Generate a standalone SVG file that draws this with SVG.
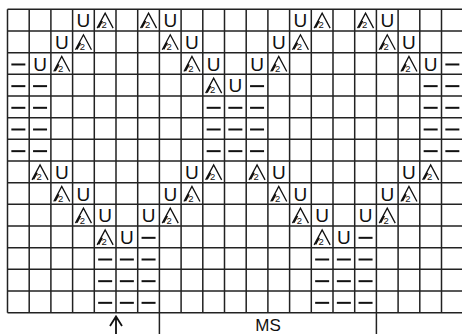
<svg xmlns="http://www.w3.org/2000/svg" xmlns:xlink="http://www.w3.org/1999/xlink" width="462" height="334" viewBox="0 0 462 334">
<style>
.grid{fill:none;stroke:#222;stroke-width:1.5}
.u{font-family:"Liberation Sans",Arial,sans-serif;font-size:19px;text-anchor:middle;fill:#111}
.t2{font-family:"Liberation Sans",Arial,sans-serif;font-size:9.5px;text-anchor:middle;fill:#111}
.sym{fill:none;stroke:#111;stroke-width:1.3;stroke-linejoin:miter}
.dsh{stroke:#111;stroke-width:2}
.arr{fill:none;stroke:#111;stroke-width:1.8}
.lbl{font-family:"Liberation Sans",Arial,sans-serif;font-size:17px;text-anchor:middle;fill:#111}
</style>
<defs>
<path id="lam" class="sym" d="M-8,8 L0,-7 L8,8 M-6.5,7.6 L-2.8,0.9"/>
<line id="dash" class="dsh" x1="-7" y1="1" x2="7" y2="1"/>
</defs>
<rect width="462" height="334" fill="#fff"/>
<g id="grid">
<path class="grid" d="M7.5,9.3V312.7M29.2,9.3V312.7M50.9,9.3V312.7M72.6,9.3V312.7M94.3,9.3V312.7M116,9.3V312.7M137.7,9.3V312.7M159.4,9.3V312.7M181.1,9.3V312.7M202.8,9.3V312.7M224.5,9.3V312.7M246.2,9.3V312.7M267.9,9.3V312.7M289.6,9.3V312.7M311.3,9.3V312.7M333,9.3V312.7M354.7,9.3V312.7M376.4,9.3V312.7M398.1,9.3V312.7M419.8,9.3V312.7M441.5,9.3V312.7
M7.5,9.3H462M7.5,30.97H462M7.5,52.64H462M7.5,74.31H462M7.5,95.98H462M7.5,117.65H462M7.5,139.32H462M7.5,160.99H462M7.5,182.66H462M7.5,204.33H462M7.5,226H462M7.5,247.67H462M7.5,269.34H462M7.5,291.01H462M7.5,312.68H462"/>
</g>
<g id="yarnovers">
<text class="u" x="83.45" y="27.1">U</text><text class="u" x="170.25" y="27.1">U</text><text class="u" x="300.45" y="27.1">U</text><text class="u" x="387.25" y="27.1">U</text>
<text class="u" x="61.75" y="48.8">U</text><text class="u" x="191.95" y="48.8">U</text><text class="u" x="278.75" y="48.8">U</text><text class="u" x="408.95" y="48.8">U</text>
<text class="u" x="40.05" y="70.5">U</text><text class="u" x="213.65" y="70.5">U</text><text class="u" x="257.05" y="70.5">U</text><text class="u" x="430.65" y="70.5">U</text>
<text class="u" x="235.35" y="92.1">U</text>
<text class="u" x="61.75" y="178.8">U</text><text class="u" x="191.95" y="178.8">U</text><text class="u" x="278.75" y="178.8">U</text><text class="u" x="408.95" y="178.8">U</text>
<text class="u" x="83.45" y="200.5">U</text><text class="u" x="170.25" y="200.5">U</text><text class="u" x="300.45" y="200.5">U</text><text class="u" x="387.25" y="200.5">U</text>
<text class="u" x="105.15" y="222.2">U</text><text class="u" x="148.55" y="222.2">U</text><text class="u" x="322.15" y="222.2">U</text><text class="u" x="365.55" y="222.2">U</text>
<text class="u" x="126.85" y="243.8">U</text><text class="u" x="343.85" y="243.8">U</text>
</g>
<g id="decreases">
<use href="#lam" x="105.15" y="20.13"/><use href="#lam" x="148.55" y="20.13"/><use href="#lam" x="322.15" y="20.13"/><use href="#lam" x="365.55" y="20.13"/>
<use href="#lam" x="83.45" y="41.8"/><use href="#lam" x="170.25" y="41.8"/><use href="#lam" x="300.45" y="41.8"/><use href="#lam" x="387.25" y="41.8"/>
<use href="#lam" x="61.75" y="63.47"/><use href="#lam" x="191.95" y="63.47"/><use href="#lam" x="278.75" y="63.47"/><use href="#lam" x="408.95" y="63.47"/>
<use href="#lam" x="213.65" y="85.14"/>
<use href="#lam" x="40.05" y="171.82"/><use href="#lam" x="213.65" y="171.82"/><use href="#lam" x="257.05" y="171.82"/><use href="#lam" x="430.65" y="171.82"/>
<use href="#lam" x="61.75" y="193.49"/><use href="#lam" x="191.95" y="193.49"/><use href="#lam" x="278.75" y="193.49"/><use href="#lam" x="408.95" y="193.49"/>
<use href="#lam" x="83.45" y="215.16"/><use href="#lam" x="170.25" y="215.16"/><use href="#lam" x="300.45" y="215.16"/><use href="#lam" x="387.25" y="215.16"/>
<use href="#lam" x="105.15" y="236.83"/><use href="#lam" x="322.15" y="236.83"/>
<text class="t2" x="104.15" y="28.4">2</text><text class="t2" x="147.55" y="28.4">2</text><text class="t2" x="321.15" y="28.4">2</text><text class="t2" x="364.55" y="28.4">2</text>
<text class="t2" x="82.45" y="50.1">2</text><text class="t2" x="169.25" y="50.1">2</text><text class="t2" x="299.45" y="50.1">2</text><text class="t2" x="386.25" y="50.1">2</text>
<text class="t2" x="60.75" y="71.8">2</text><text class="t2" x="190.95" y="71.8">2</text><text class="t2" x="277.75" y="71.8">2</text><text class="t2" x="407.95" y="71.8">2</text>
<text class="t2" x="212.65" y="93.4">2</text>
<text class="t2" x="39.05" y="180.1">2</text><text class="t2" x="212.65" y="180.1">2</text><text class="t2" x="256.05" y="180.1">2</text><text class="t2" x="429.65" y="180.1">2</text>
<text class="t2" x="60.75" y="201.8">2</text><text class="t2" x="190.95" y="201.8">2</text><text class="t2" x="277.75" y="201.8">2</text><text class="t2" x="407.95" y="201.8">2</text>
<text class="t2" x="82.45" y="223.5">2</text><text class="t2" x="169.25" y="223.5">2</text><text class="t2" x="299.45" y="223.5">2</text><text class="t2" x="386.25" y="223.5">2</text>
<text class="t2" x="104.15" y="245.1">2</text><text class="t2" x="321.15" y="245.1">2</text>
</g>
<g id="purls">
<use href="#dash" x="18.35" y="63.47"/><use href="#dash" x="452.35" y="63.47"/>
<use href="#dash" x="18.35" y="85.14"/><use href="#dash" x="40.05" y="85.14"/><use href="#dash" x="257.05" y="85.14"/><use href="#dash" x="430.65" y="85.14"/><use href="#dash" x="452.35" y="85.14"/>
<use href="#dash" x="18.35" y="106.81"/><use href="#dash" x="40.05" y="106.81"/><use href="#dash" x="213.65" y="106.81"/><use href="#dash" x="235.35" y="106.81"/><use href="#dash" x="257.05" y="106.81"/><use href="#dash" x="430.65" y="106.81"/><use href="#dash" x="452.35" y="106.81"/>
<use href="#dash" x="18.35" y="128.48"/><use href="#dash" x="40.05" y="128.48"/><use href="#dash" x="213.65" y="128.48"/><use href="#dash" x="235.35" y="128.48"/><use href="#dash" x="257.05" y="128.48"/><use href="#dash" x="430.65" y="128.48"/><use href="#dash" x="452.35" y="128.48"/>
<use href="#dash" x="18.35" y="150.15"/><use href="#dash" x="40.05" y="150.15"/><use href="#dash" x="213.65" y="150.15"/><use href="#dash" x="235.35" y="150.15"/><use href="#dash" x="257.05" y="150.15"/><use href="#dash" x="430.65" y="150.15"/><use href="#dash" x="452.35" y="150.15"/>
<use href="#dash" x="148.55" y="236.83"/><use href="#dash" x="365.55" y="236.83"/>
<use href="#dash" x="105.15" y="258.5"/><use href="#dash" x="126.85" y="258.5"/><use href="#dash" x="148.55" y="258.5"/><use href="#dash" x="322.15" y="258.5"/><use href="#dash" x="343.85" y="258.5"/><use href="#dash" x="365.55" y="258.5"/>
<use href="#dash" x="105.15" y="280.17"/><use href="#dash" x="126.85" y="280.17"/><use href="#dash" x="148.55" y="280.17"/><use href="#dash" x="322.15" y="280.17"/><use href="#dash" x="343.85" y="280.17"/><use href="#dash" x="365.55" y="280.17"/>
<use href="#dash" x="105.15" y="301.84"/><use href="#dash" x="126.85" y="301.84"/><use href="#dash" x="148.55" y="301.84"/><use href="#dash" x="322.15" y="301.84"/><use href="#dash" x="343.85" y="301.84"/><use href="#dash" x="365.55" y="301.84"/>
</g>
<g id="connectors">
<path class="arr" d="M116,334V317.5M110,326L116,316.5L122,326"/>
<path class="grid" d="M159.4,312.7V334M376.4,312.7V334"/>
</g>
<g id="repeat-label">
<text class="lbl" x="268" y="331">MS</text>
</g>
</svg>
